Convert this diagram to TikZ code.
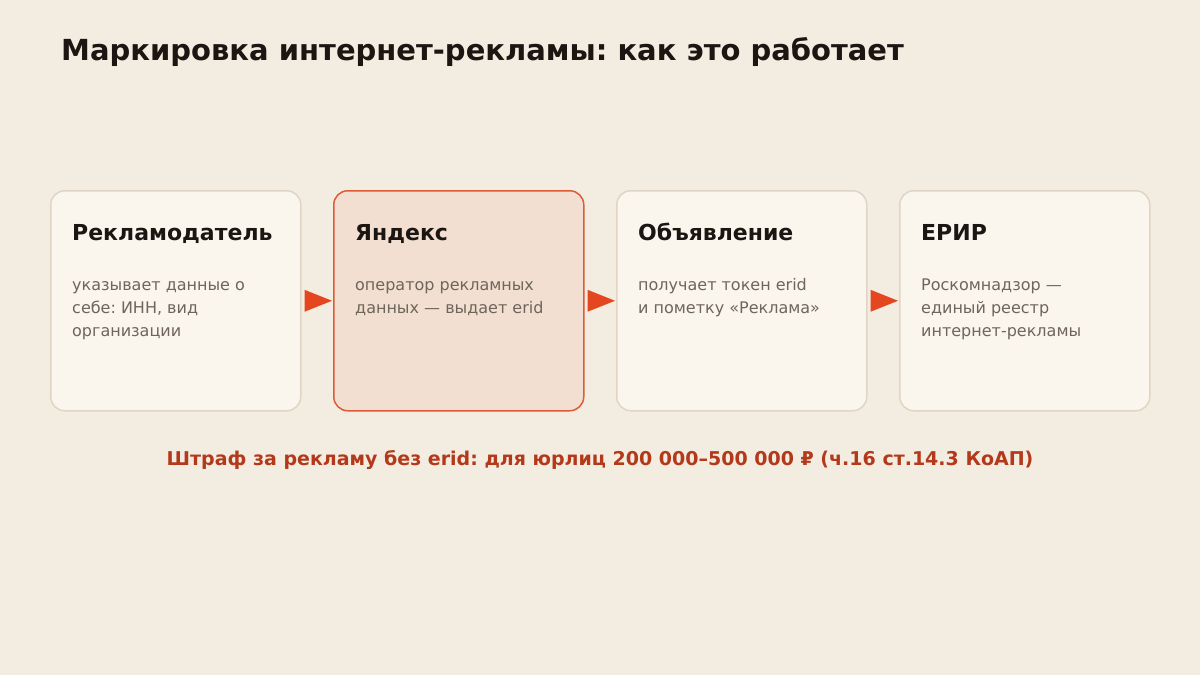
\documentclass[tikz,border=0pt]{standalone}
\usepackage{fontspec}
\setmainfont{DejaVu Sans}
\frenchspacing
\definecolor{bgc}{HTML}{F3ECE1}
\definecolor{boxfill}{HTML}{FAF6EE}
\definecolor{boxline}{HTML}{E0D5C4}
\definecolor{hlfill}{HTML}{F2DFD1}
\definecolor{hlline}{HTML}{DF5B36}
\definecolor{arrowc}{HTML}{E4471F}
\definecolor{titlec}{HTML}{1B1612}
\definecolor{bodyc}{HTML}{6E655B}
\definecolor{notec}{HTML}{B3391A}
\begin{document}
\begin{tikzpicture}[x=1pt,y=-1pt,
  card/.style={draw=boxline, fill=boxfill, line width=1.5pt, rounded corners=14pt,
    minimum width=250pt, minimum height=220pt, anchor=north west, inner sep=0pt},
  hlcard/.style={card, draw=hlline, fill=hlfill},
  head/.style={anchor=base west, inner sep=0pt, text=titlec, font=\bfseries\fontsize{22}{26}\selectfont},
  body/.style={anchor=base west, inner sep=0pt, text=bodyc, align=left, font=\fontsize{16}{23}\selectfont}
]
\fill[bgc] (0,0) rectangle (1200,675);
\useasboundingbox (0,0) rectangle (1200,675);
\node[anchor=base west, inner sep=0pt, text=titlec, font=\bfseries\fontsize{29}{34}\selectfont] (title) at (61,60) {Маркировка интернет-рекламы: как это работает};

\node[card] (b1) at (50,190) {};
\node[hlcard] (b2) at (333,190) {};
\node[card] (b3) at (616,190) {};
\node[card] (b4) at (899,190) {};

\node[head] (h1) at (72,240) {Рекламодатель};
\node[head] (h2) at (355,240) {Яндекс};
\node[head] (h3) at (638,240) {Объявление};
\node[head] (h4) at (921,240) {ЕРИР};

% base anchor = baseline of the last line
\node[body] (t1) at (72,336) {указывает данные о\\себе: ИНН, вид\\организации};
\node[body] (t2) at (355,313) {оператор рекламных\\данных — выдает erid};
\node[body] (t3) at (638,313) {получает токен erid\\и пометку «Реклама»};
\node[body] (t4) at (921,336) {Роскомнадзор —\\единый реестр\\интернет-рекламы};

\foreach \a/\b in {b1/b2,b2/b3,b3/b4}{
  \fill[arrowc] ([xshift=3pt,yshift=11pt]\a.east) -- ([xshift=-1pt]\b.west) -- ([xshift=3pt,yshift=-11pt]\a.east) -- cycle;
}

\node[anchor=base, inner sep=0pt, text=notec, font=\bfseries\fontsize{19}{23}\selectfont] (note) at (600,465) {Штраф за рекламу без erid: для юрлиц 200 000–500 000 ₽ (ч.16 ст.14.3 КоАП)};
\end{tikzpicture}
\end{document}
